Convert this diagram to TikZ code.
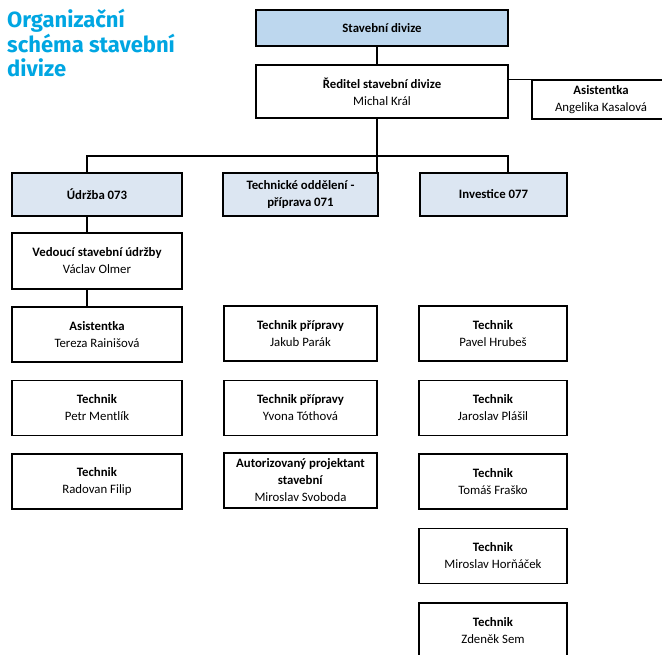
\documentclass[tikz,border=0pt]{standalone}
\usepackage{fontspec}
\setmainfont{Carlito}
\newfontfamily\titlefont{Fira Sans}
\usepackage{tikz}

\definecolor{titleblue}{RGB}{0,166,226}
\definecolor{topfill}{RGB}{189,215,238}
\definecolor{deptfill}{RGB}{220,230,242}

\begin{document}
\begin{tikzpicture}[x=1pt, y=-1pt,
  orgbox/.style={draw, line width=1.3pt, align=center, inner sep=0pt,
    font=\fontsize{12.8}{17}\selectfont},
  person/.style={orgbox, minimum height=55pt},
  deptbox/.style={orgbox, fill=deptfill, minimum height=43pt},
  link/.style={line width=1.3pt}]
\useasboundingbox (0,0) rectangle (662,654);

% title
\node[anchor=north west, align=left, inner sep=0pt, text=titleblue,
  font=\titlefont\bfseries\fontsize{22}{24.5}\selectfont] (title) at (7,9)
  {Organizační\\schéma stavební\\divize};

% top of the tree
\node[orgbox, fill=topfill, minimum width=252pt, minimum height=36pt] (stav) at (382,28) {\textbf{Stavební divize}};
\node[orgbox, minimum width=252pt, minimum height=53pt] (red) at (382,91.5) {\textbf{Ředitel stavební divize}\\Michal Král};
\node[orgbox, minimum width=138pt, minimum height=39pt] (asist) at (601,99.5) {\textbf{Asistentka}\\Angelika Kasalová};

% departments
\node[deptbox, minimum width=170pt] (udr) at (97,194.5) {\textbf{Údržba 073}};
\node[deptbox, minimum width=155pt] (tech) at (300.5,194.5) {\textbf{Technické oddělení -}\\\textbf{příprava 071}};
\node[deptbox, minimum width=147pt] (inv) at (493.5,194.5) {\textbf{Investice 077}};

% udrzba
\node[orgbox, minimum width=170pt, minimum height=56pt] (ved) at (97,261) {\textbf{Vedoucí stavební údržby}\\Václav Olmer};
\node[person, minimum width=170pt] (l1) at (97,334.5) {\textbf{Asistentka}\\Tereza Rainišová};
\node[person, minimum width=170pt] (l2) at (97,408) {\textbf{Technik}\\Petr Mentlík};
\node[person, minimum width=170pt] (l3) at (97,481.5) {\textbf{Technik}\\Radovan Filip};

% priprava
\node[person, minimum width=153pt] (m1) at (300.5,333.5) {\textbf{Technik přípravy}\\Jakub Parák};
\node[person, minimum width=153pt] (m2) at (300.5,408) {\textbf{Technik přípravy}\\Yvona Tóthová};
\node[person, minimum width=153pt] (m3) at (300.5,480.5) {\textbf{Autorizovaný projektant}\\\textbf{stavební}\\Miroslav Svoboda};

% investice
\node[person, minimum width=148pt] (r1) at (493,333.5) {\textbf{Technik}\\Pavel Hrubeš};
\node[person, minimum width=148pt] (r2) at (493,408) {\textbf{Technik}\\Jaroslav Plášil};
\node[person, minimum width=148pt] (r3) at (493,481.5) {\textbf{Technik}\\Tomáš Fraško};
\node[person, minimum width=148pt] (r4) at (493,556) {\textbf{Technik}\\Miroslav Horňáček};
\node[person, minimum width=148pt] (r5) at (493,630.5) {\textbf{Technik}\\Zdeněk Sem};

% connectors
\coordinate (trunk) at (377,156);
\coordinate (busl) at (87,156);
\coordinate (busr) at (508,156);
\draw[link] (stav.south -| trunk) -- (red.north -| trunk);
\draw[link] (asist.north west -| red.east) -- (asist.north west);
\draw[link] (red.south -| trunk) -- (tech.north -| trunk);
\draw[link] (busl |- udr.north) -- (busl) -- (busr) -- (busr |- inv.north);
\draw[link] (udr.south -| busl) -- (ved.north -| busl);
\draw[link] (ved.south -| busl) -- (l1.north -| busl);
\end{tikzpicture}
\end{document}
